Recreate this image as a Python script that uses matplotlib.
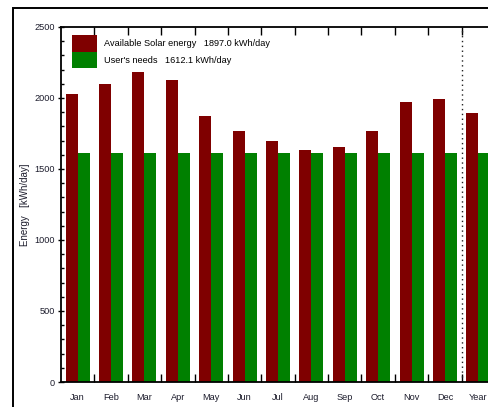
import matplotlib
matplotlib.use("Agg")
import matplotlib.pyplot as plt
from matplotlib import font_manager
import numpy as np
from matplotlib.patches import Rectangle, Patch

# prefer a condensed face if one is installed
try:
    font_manager.findfont('Liberation Sans Narrow', fallback_to_default=False)
    family, fs = 'Liberation Sans Narrow', 7.5
except ValueError:
    family, fs = 'Liberation Sans', 6.6
plt.rcParams['font.family'] = [family, 'DejaVu Sans']

# monthly energy balance, kWh/day
months = ['Jan', 'Feb', 'Mar', 'Apr', 'May', 'Jun', 'Jul', 'Aug', 'Sep', 'Oct', 'Nov', 'Dec', 'Year']
solar = [2027, 2100, 2184, 2128, 1870, 1767, 1695, 1632, 1657, 1767, 1975, 1992, 1897.0]
needs = [1612.1] * 13

red = '#7f0000'
green = '#008000'
txt = '#1c1c2c'

fig = plt.figure(figsize=(4.89, 4.07), dpi=100)
# outer frame
fig.patches.append(Rectangle((13 / 489, -0.1), 1.2, (407 - 8) / 407 + 0.1,
                             transform=fig.transFigure, fill=False,
                             edgecolor='black', linewidth=1.4))

ax = fig.add_axes([61 / 489, 25 / 407, 434 / 489, 355 / 407])
x = np.arange(len(months))
w = 0.36
ax.bar(x - w / 2, solar, width=w, color=red)
ax.bar(x + w / 2, needs, width=w, color=green)

ax.set_xlim(-0.5, 12.5)
ax.set_ylim(0, 2500)
ax.set_xticks(x)
ax.set_xticklabels(months)
ax.set_xticks(x[:-1] + 0.5, minor=True)
ax.tick_params(axis='x', which='major', length=0, pad=8, labelsize=fs, labelcolor=txt)
ax.tick_params(axis='x', which='minor', direction='in', length=6, width=1,
               top=True, bottom=True)
ax.set_yticks(np.arange(0, 2501, 500))
ax.set_yticks(np.arange(0, 2501, 100), minor=True)
ax.tick_params(axis='y', which='major', direction='inout', length=5, width=1,
               pad=2, labelsize=fs, labelcolor=txt)
ax.tick_params(axis='y', which='minor', direction='in', length=2, width=1)
ax.axvline(11.5, color='#222222', linestyle=(0, (1, 2.5)), linewidth=1)

for s in ax.spines.values():
    s.set_linewidth(1.3)

ax.set_ylabel('Energy   [kWh/day]', fontsize=7, color=txt, labelpad=3)

handles = [Patch(facecolor=red), Patch(facecolor=green)]
labels = [f'Available Solar energy   {solar[-1]:.1f} kWh/day',
          f"User's needs   {needs[0]:.1f} kWh/day"]
ax.legend(handles, labels, loc='upper left', bbox_to_anchor=(72 / 489, 1 - 35 / 407),
          bbox_transform=fig.transFigure, frameon=False, fontsize=fs,
          handlelength=25 / (fs * 100 / 72), handleheight=22 / (fs * 100 / 72),
          labelspacing=0, borderpad=0, borderaxespad=0,
          handletextpad=7 / (fs * 100 / 72))

fig.savefig('out.png', dpi=100)
